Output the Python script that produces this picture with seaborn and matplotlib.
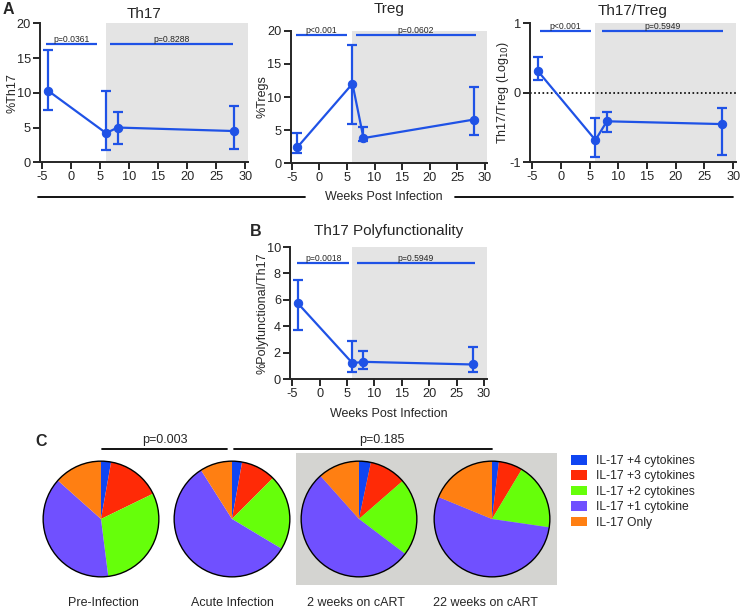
import matplotlib
matplotlib.use("Agg")
import matplotlib.pyplot as plt
import seaborn as sns
from matplotlib.patches import Patch, Rectangle, Circle
from matplotlib.lines import Line2D

# ---- data ----
weeks = [-4, 6, 8, 28]

th17 = [10.3, 4.2, 5.0, 4.5]
th17_lo = [7.5, 1.8, 2.6, 1.9]
th17_hi = [16.1, 10.2, 7.2, 8.1]

treg = [2.4, 12.0, 3.8, 6.6]
treg_lo = [1.6, 5.9, 3.4, 4.3]
treg_hi = [4.5, 17.9, 5.5, 11.5]

ratio = [0.31, -0.68, -0.41, -0.45]
ratio_lo = [0.18, -0.93, -0.56, -0.89]
ratio_hi = [0.52, -0.36, -0.28, -0.22]

poly = [5.75, 1.2, 1.3, 1.1]
poly_lo = [3.7, 0.55, 0.75, 0.55]
poly_hi = [7.5, 2.85, 2.1, 2.45]

p_th17 = ["p=0.0361", "p=0.8288"]
p_treg = ["p<0.001", "p=0.0602"]
p_ratio = ["p<0.001", "p=0.5949"]
p_poly = ["p=0.0018", "p=0.5949"]

pie_names = ["Pre-Infection", "Acute Infection", "2 weeks on cART", "22 weeks on cART"]
cyto_labels = ["IL-17 +4 cytokines", "IL-17 +3 cytokines", "IL-17 +2 cytokines",
               "IL-17 +1 cytokine", "IL-17 Only"]
pie_pre = [2.8, 15.0, 30.2, 38.6, 13.4]
pie_acute = [2.8, 9.7, 21.1, 57.4, 9.0]
pie_2wk = [3.3, 10.3, 21.7, 53.1, 11.6]
pie_22wk = [1.9, 6.7, 18.7, 53.9, 18.8]
pie_p = ["p=0.003", "p=0.185"]

cyto_colors = ["#0f45f2", "#ff2a06", "#66ff0a", "#7050ff", "#ff7f12"]
blue = "#1f52e6"

W, H = 741, 609
sns.set_style("ticks")
plt.rcParams["font.family"] = ["Liberation Sans", "DejaVu Sans"]
plt.rcParams["axes.unicode_minus"] = False
fig = plt.figure(figsize=(W / 100, H / 100), dpi=100)


def box(l, t, r, b):
    return [l / W, 1 - b / H, (r - l) / W, (b - t) / H]


def panel(rect, y, lo, hi, xlim, ylim, yticks, ylabel, title, tpad, pvals, pbar, shade):
    ax = fig.add_axes(box(*rect))
    ax.axvspan(6, xlim[1], color=shade, lw=0, zorder=0)
    sns.lineplot(x=weeks, y=y, ax=ax, color=blue, marker="o", markersize=6,
                 markeredgecolor=blue, linewidth=1.6, zorder=3)
    yerr = [[v - l for v, l in zip(y, lo)], [h - v for v, h in zip(y, hi)]]
    ax.errorbar(weeks, y, yerr=yerr, fmt="none", ecolor=blue, elinewidth=1.6,
                capsize=3.5, capthick=1.6, zorder=3)
    ax.set_xlim(*xlim)
    ax.set_ylim(*ylim)
    ax.set_xticks([-5, 0, 5, 10, 15, 20, 25, 30])
    ax.set_yticks(yticks)
    ax.set_ylabel(ylabel, fontsize=9, labelpad=-1)
    ax.set_title(title, fontsize=11, pad=tpad)
    ax.tick_params(labelsize=9.2, width=1.4, length=5, pad=1.5)
    for s in ["left", "bottom"]:
        ax.spines[s].set_linewidth(1.4)
    sns.despine(ax=ax)
    yb, segs = pbar
    for (x0, x1), txt in zip(segs, pvals):
        ax.plot([x0, x1], [yb, yb], color=blue, lw=1.6, solid_capstyle="butt")
        ax.text((x0 + x1) / 2, yb, txt, ha="center", va="bottom", fontsize=6.2)
    return ax


panel((40, 23.3, 248, 162.3), th17, th17_lo, th17_hi, (-5.4, 30.5), (0, 20),
      [0, 5, 10, 15, 20], "%Th17", "Th17", 4, p_th17,
      (17.0, [(-4.3, 4.5), (6.6, 27.9)]), "#e4e4e4")
panel((290.6, 30.7, 487.2, 163.3), treg, treg_lo, treg_hi, (-5.2, 30.4), (0, 20),
      [0, 5, 10, 15, 20], "%Tregs", "Treg", 13, p_treg,
      (19.4, [(-4.3, 5.1), (6.7, 28.3)]), "#e4e4e4")
ax3 = panel((530, 23.3, 736, 162.3), ratio, ratio_lo, ratio_hi, (-5.4, 30.5), (-1, 1),
            [-1, 0, 1], "Th17/Treg (Log$_{10}$)", "Th17/Treg", 6, p_ratio,
            (0.885, [(-3.6, 5.2), (7.1, 28.3)]), "#e4e4e4")
ax3.axhline(0, color="black", lw=1.2, ls=(0, (1, 1.5)), zorder=2)

axb = panel((290, 247, 486.7, 379), poly, poly_lo, poly_hi, (-5.4, 30.5), (0, 10),
            [0, 2, 4, 6, 8, 10], "%Polyfunctional/Th17", "Th17 Polyfunctionality", 9, p_poly,
            (8.8, [(-4.1, 5.4), (6.8, 28.3)]), "#e4e4e4")
axb.set_xlabel("Weeks Post Infection", fontsize=9, labelpad=6)

# shared x label for panel A
fig.text(384 / W, 1 - 197 / H, "Weeks Post Infection", ha="center", va="center", fontsize=9)
fig.add_artist(Line2D([38 / W, 305 / W], [1 - 197 / H] * 2, color="black", lw=1.3))
fig.add_artist(Line2D([455 / W, 733 / W], [1 - 197 / H] * 2, color="black", lw=1.3))

# panel letters
fig.text(8 / W, 1 - 9 / H, "A", fontsize=11.5, fontweight="bold", ha="center", va="center")
fig.text(256 / W, 1 - 231 / H, "B", fontsize=11.5, fontweight="bold", ha="center", va="center")
fig.text(41 / W, 1 - 442 / H, "C", fontsize=11.5, fontweight="bold", ha="center", va="center")

# panel C
fig.add_artist(Rectangle((296 / W, 1 - 585 / H), (557 - 296) / W, (585 - 453) / H,
                         transform=fig.transFigure, color="#d4d4d1", lw=0, zorder=0))
R = 58
label_x = [103.5, 232, 356, 485]
for cx, lx, vals, name in zip([101, 232, 359, 492], label_x,
                              [pie_pre, pie_acute, pie_2wk, pie_22wk], pie_names):
    ax = fig.add_axes(box(cx - R - 1, 519 - R - 1, cx + R + 1, 519 + R + 1))
    ax.pie(vals, colors=cyto_colors, startangle=90, counterclock=False,
           wedgeprops=dict(linewidth=0))
    ax.add_patch(Circle((0, 0), 1, fill=False, ec="black", lw=1.0))
    ax.set_xlim(-1.02, 1.02)
    ax.set_ylim(-1.02, 1.02)
    ax.set_aspect("equal")
    ax.axis("off")
    fig.text(lx / W, 1 - 603 / H, name, ha="center", va="center", fontsize=9)

for (x0, x1, xt), txt in zip([(102, 227, 164.5), (234, 492, 382)], pie_p):
    fig.add_artist(Line2D([x0 / W, x1 / W], [1 - 449 / H] * 2, color="black", lw=1.3))
    fig.text(xt / W, 1 - 440 / H, txt, ha="center", va="center", fontsize=9)

handles = [Patch(facecolor=c, edgecolor="none") for c in cyto_colors]
fig.legend(handles, cyto_labels, loc="upper left", bbox_to_anchor=(571 / W, 1 - 455 / H),
           frameon=False, fontsize=8.7, handlelength=1.33, handleheight=0.83,
           handletextpad=0.75, labelspacing=0.28, borderpad=0, borderaxespad=0)

fig.savefig("out.png", dpi=100)
